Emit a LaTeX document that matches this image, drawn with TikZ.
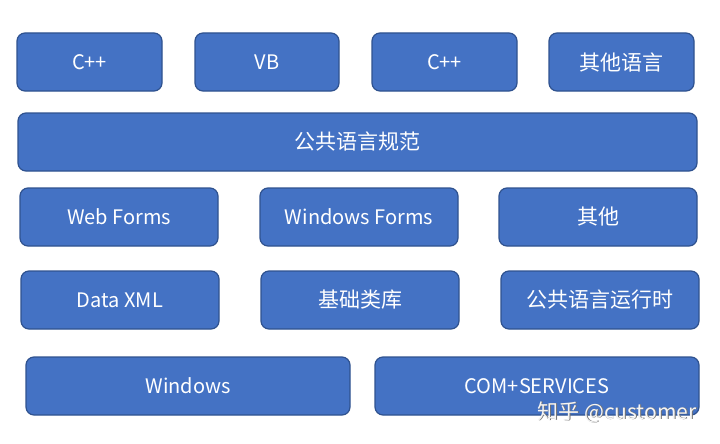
\documentclass[tikz,border=0pt]{standalone}
\usepackage{fontspec}
\setmainfont{Noto Sans CJK SC}
\definecolor{boxfill}{HTML}{4472C4}
\definecolor{boxline}{HTML}{2F528F}
\begin{document}
\begin{tikzpicture}[x=1pt,y=-1pt,
  blk/.style={draw=boxline,line width=1.2pt,fill=boxfill,rounded corners=8pt},
  lat/.style={text=white,font=\fontsize{20}{22}\selectfont},
  cjk/.style={text=white,font=\fontsize{21}{23}\selectfont},
  wm/.style={font=\fontsize{21}{23}\selectfont,anchor=west}]
\useasboundingbox (0,0) rectangle (720,444);
\newcommand{\blkbox}[7]{%
  \draw[blk] (#2,#3) rectangle (#4,#5);
  \node[#7] (#1) at ({(#2+#4)/2},{(#3+#5)/2}) {#6};}
\blkbox{a1}{17}{33}{162}{91}{C++}{lat}
\blkbox{a2}{195}{33}{339}{91}{VB}{lat}
\blkbox{a3}{372}{33}{517}{91}{C++}{lat}
\blkbox{a4}{549}{33}{694}{91}{其他语言}{cjk}
\blkbox{b1}{18}{113}{697}{171}{公共语言规范}{cjk}
\blkbox{c1}{20}{188}{218}{246}{Web Forms}{lat}
\blkbox{c2}{260}{188}{458}{246}{Windows Forms}{lat}
\blkbox{c3}{499}{188}{697}{246}{其他}{cjk}
\blkbox{d1}{21}{271}{219}{329}{Data XML}{lat}
\blkbox{d2}{261}{271}{459}{329}{基础类库}{cjk}
\blkbox{d3}{501}{271}{699}{329}{公共语言运行时}{cjk}
\blkbox{e1}{26}{357}{350}{415}{Windows}{lat}
\blkbox{e2}{375}{357}{699}{415}{COM+SERVICES}{lat}
\node[wm,text=black!55] (wms) at (534.8,412.8) {知乎 @customer};
\node[wm,text=white!92!gray] (wmt) at (534,412) {知乎 @customer};
\end{tikzpicture}
\end{document}
